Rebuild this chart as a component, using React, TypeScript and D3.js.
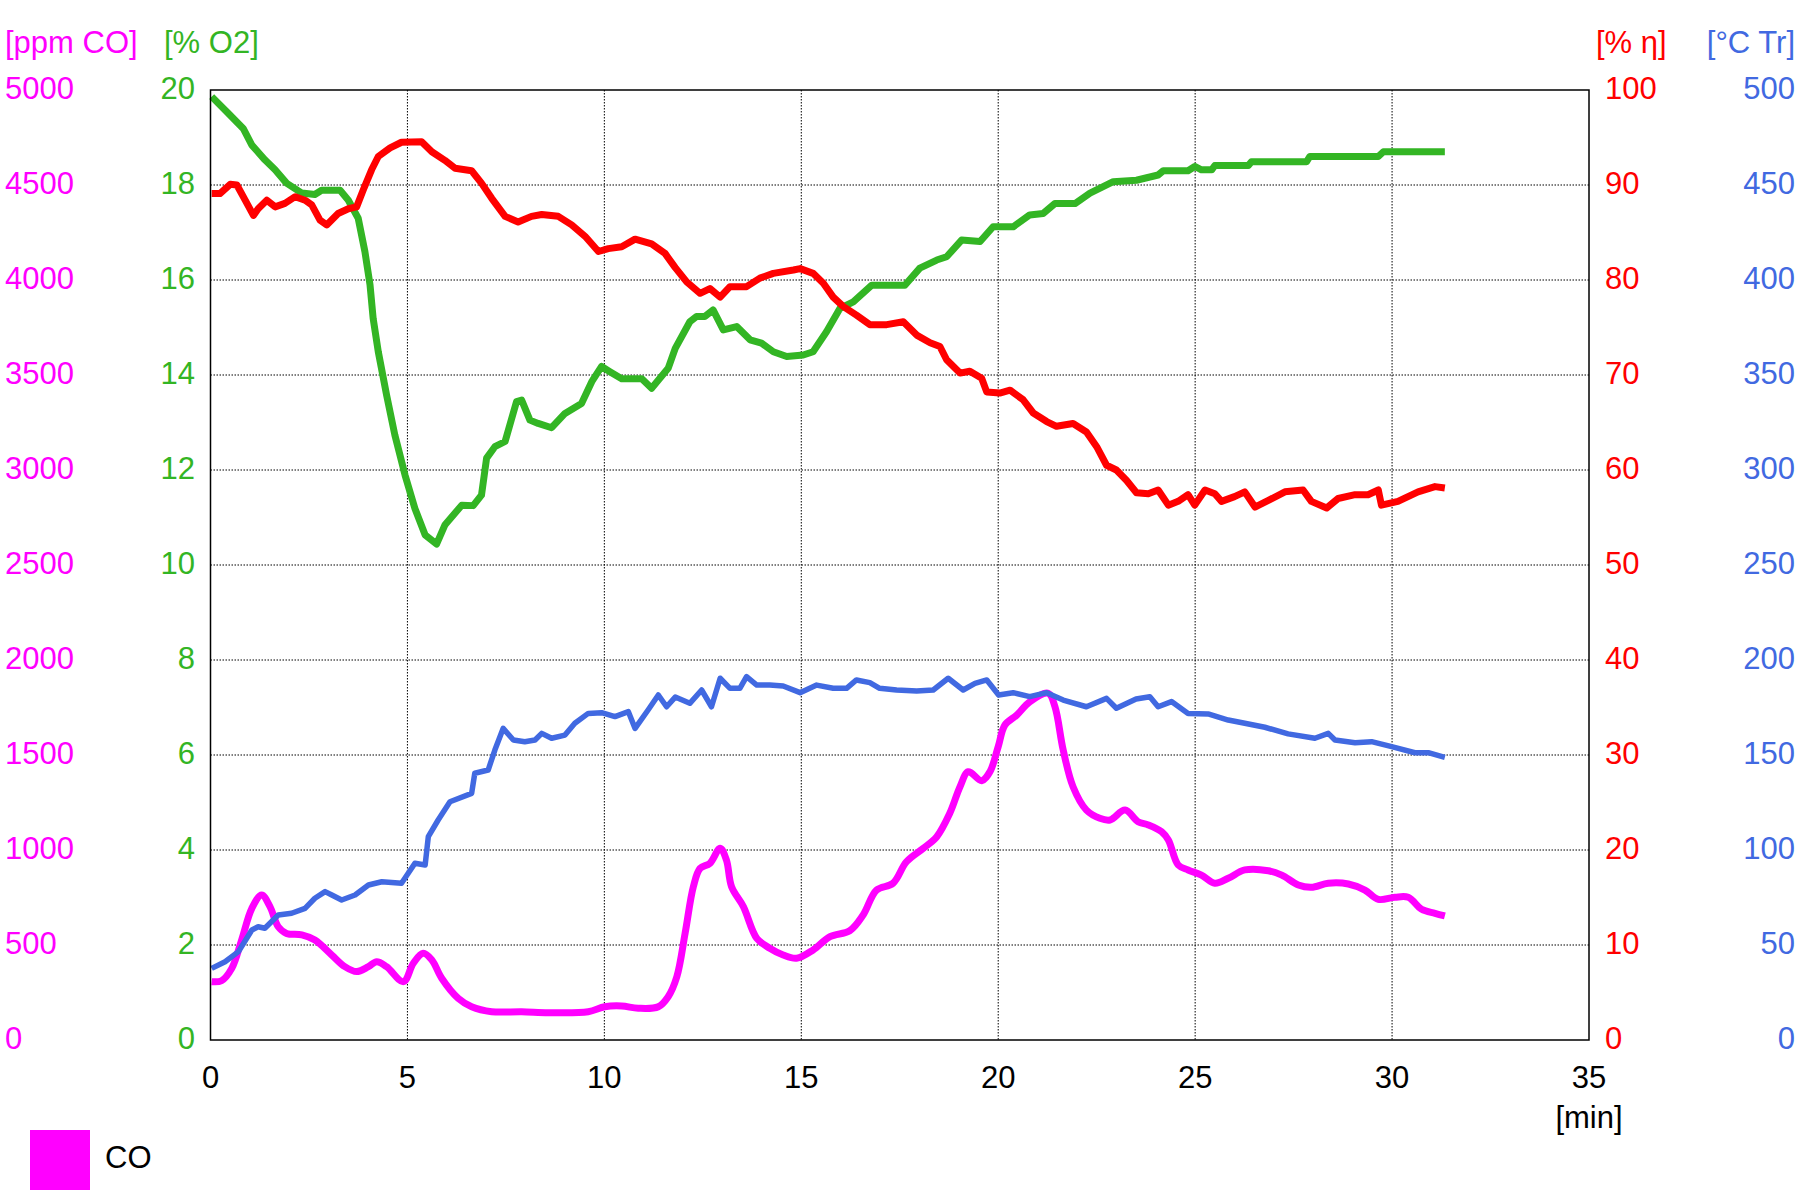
import React from "react";
import * as d3 from "d3";

// ---- data (time in min, value) ----
const timeTicks = [0, 5, 10, 15, 20, 25, 30, 35];
const coTicks = [0, 500, 1000, 1500, 2000, 2500, 3000, 3500, 4000, 4500, 5000];
const o2Ticks = [0, 2, 4, 6, 8, 10, 12, 14, 16, 18, 20];
const etaTicks = [0, 10, 20, 30, 40, 50, 60, 70, 80, 90, 100];
const tempTicks = [0, 50, 100, 150, 200, 250, 300, 350, 400, 450, 500];

const o2Series: [number, number][] = [
  [0.03, 19.86], [0.45, 19.51], [0.83, 19.19], [1.05, 18.84], [1.38, 18.53], [1.64, 18.32], [1.93, 18.04],
  [2.32, 17.83], [2.65, 17.8], [2.82, 17.89], [3.29, 17.89], [3.5, 17.68], [3.75, 17.3], [3.92, 16.6],
  [4.05, 15.9], [4.13, 15.19], [4.26, 14.49], [4.47, 13.58], [4.68, 12.74], [4.94, 11.89], [5.19, 11.19],
  [5.45, 10.63], [5.74, 10.44], [5.95, 10.84], [6.38, 11.26], [6.67, 11.25], [6.88, 11.47], [7.01, 12.25],
  [7.22, 12.49], [7.48, 12.6], [7.77, 13.44], [7.9, 13.47], [8.11, 13.05], [8.32, 12.98], [8.66, 12.89],
  [9.0, 13.19], [9.42, 13.4], [9.68, 13.86], [9.93, 14.18], [10.14, 14.07], [10.44, 13.92], [10.95, 13.92],
  [11.2, 13.72], [11.62, 14.14], [11.8, 14.56], [12.17, 15.12], [12.34, 15.23], [12.55, 15.23], [12.76, 15.37],
  [13.02, 14.95], [13.36, 15.02], [13.7, 14.74], [13.99, 14.67], [14.29, 14.49], [14.63, 14.39], [15.05, 14.42],
  [15.3, 14.49], [15.64, 14.91], [15.98, 15.4], [16.32, 15.54], [16.79, 15.89], [17.63, 15.89], [18.01, 16.25],
  [18.44, 16.42], [18.69, 16.49], [19.07, 16.84], [19.54, 16.81], [19.87, 17.12], [20.38, 17.12], [20.8, 17.37],
  [21.14, 17.4], [21.44, 17.61], [21.95, 17.61], [22.33, 17.83], [22.92, 18.07], [23.51, 18.1], [24.06, 18.21],
  [24.19, 18.3], [24.82, 18.3], [24.99, 18.39], [25.16, 18.32], [25.42, 18.32], [25.5, 18.41], [26.35, 18.41],
  [26.43, 18.49], [27.83, 18.49], [27.91, 18.6], [29.65, 18.6], [29.78, 18.7], [31.34, 18.7],
];

const etaSeries: [number, number][] = [
  [0.03, 89.1], [0.24, 89.1], [0.5, 90.07], [0.67, 90.0], [0.88, 88.4], [1.09, 86.8], [1.21, 87.5], [1.43, 88.4],
  [1.64, 87.7], [1.89, 88.07], [2.15, 88.77], [2.4, 88.4], [2.57, 87.9], [2.78, 86.3], [2.95, 85.8], [3.24, 87.0],
  [3.5, 87.5], [3.71, 87.7], [3.88, 89.5], [4.09, 91.6], [4.26, 93.0], [4.56, 93.9], [4.85, 94.5], [5.36, 94.56],
  [5.62, 93.5], [5.95, 92.6], [6.21, 91.76], [6.63, 91.5], [6.88, 90.2], [7.14, 88.6], [7.48, 86.7], [7.81, 86.1],
  [8.15, 86.7], [8.41, 86.9], [8.83, 86.7], [9.17, 85.8], [9.51, 84.6], [9.85, 83.0], [10.1, 83.3], [10.44, 83.5],
  [10.78, 84.3], [11.2, 83.8], [11.54, 82.8], [11.8, 81.3], [12.09, 79.8], [12.43, 78.6], [12.68, 79.1], [12.94, 78.2],
  [13.19, 79.3], [13.61, 79.3], [13.95, 80.2], [14.29, 80.7], [14.8, 81.05], [14.97, 81.2], [15.3, 80.7], [15.56, 79.65],
  [15.81, 78.2], [16.07, 77.2], [16.4, 76.3], [16.74, 75.3], [17.17, 75.3], [17.59, 75.6], [17.93, 74.2], [18.27, 73.4],
  [18.52, 73.0], [18.69, 71.6], [19.03, 70.2], [19.28, 70.4], [19.58, 69.65], [19.71, 68.2], [20.04, 68.1], [20.3, 68.4],
  [20.63, 67.4], [20.89, 66.0], [21.23, 65.1], [21.48, 64.6], [21.9, 64.9], [22.24, 64.0], [22.5, 62.45], [22.75, 60.5],
  [23.0, 60.0], [23.26, 58.9], [23.51, 57.6], [23.81, 57.5], [24.06, 57.9], [24.32, 56.3], [24.57, 56.7], [24.82, 57.4],
  [24.99, 56.3], [25.25, 57.9], [25.5, 57.5], [25.67, 56.7], [26.0, 57.2], [26.26, 57.7], [26.52, 56.1], [26.86, 56.8],
  [27.28, 57.7], [27.74, 57.9], [27.95, 56.7], [28.34, 56.0], [28.63, 57.0], [29.06, 57.4], [29.39, 57.4], [29.65, 57.9],
  [29.73, 56.3], [30.15, 56.7], [30.66, 57.7], [31.09, 58.25], [31.34, 58.1],
];

const tempSeries: [number, number][] = [
  [0.03, 37.7], [0.37, 41.2], [0.71, 46.5], [1.05, 57.9], [1.21, 59.6], [1.38, 58.8], [1.72, 65.8], [2.06, 66.7],
  [2.4, 69.3], [2.65, 74.6], [2.91, 78.1], [3.08, 76.3], [3.33, 73.7], [3.67, 76.3], [4.01, 81.6], [4.35, 83.3],
  [4.85, 82.5], [5.19, 93.0], [5.45, 92.1], [5.53, 107], [5.78, 115.8], [6.08, 125.4], [6.63, 129.8], [6.71, 140.4],
  [7.05, 142.1], [7.22, 152.6], [7.43, 164], [7.69, 157.9], [7.98, 157.0], [8.24, 157.9], [8.41, 161.4], [8.66, 158.8],
  [9.0, 160.5], [9.25, 166.7], [9.59, 171.9], [9.93, 172.3], [10.27, 170.2], [10.61, 172.8], [10.78, 164], [11.11, 173.7],
  [11.37, 181.6], [11.58, 175.4], [11.8, 180.5], [12.17, 177.2], [12.47, 184.2], [12.72, 175.4], [12.94, 190.4],
  [13.19, 185.1], [13.44, 185.1], [13.61, 191.2], [13.87, 186.8], [14.2, 186.8], [14.54, 186.3], [14.97, 182.8],
  [15.39, 186.8], [15.81, 185.1], [16.15, 185.1], [16.4, 189.5], [16.74, 188.1], [16.99, 185.1], [17.42, 184.2],
  [17.93, 183.7], [18.35, 184.2], [18.73, 190.4], [19.11, 184.2], [19.41, 187.7], [19.71, 189.5], [20.01, 181.6],
  [20.38, 182.8], [20.8, 180.7], [21.23, 182.8], [21.65, 178.9], [22.24, 175.4], [22.75, 179.8], [23.0, 174.6],
  [23.5, 179.5], [23.85, 180.7], [24.06, 175.4], [24.4, 178.1], [24.82, 171.9], [25.33, 171.6], [25.84, 168.4],
  [26.26, 166.7], [26.77, 164.6], [27.36, 161.1], [28.04, 158.8], [28.38, 161.4], [28.55, 157.9], [29.06, 156.5],
  [29.48, 157.0], [29.99, 154.4], [30.58, 151.2], [30.92, 151.2], [31.34, 148.8],
];

const coSeries: [number, number][] = [
  [0.03, 307], [0.28, 312], [0.54, 377], [0.79, 526], [1.05, 693], [1.3, 763], [1.51, 702], [1.72, 596], [1.93, 561],
  [2.32, 553], [2.65, 526], [3.08, 447], [3.41, 386], [3.71, 360], [4.01, 386], [4.22, 412], [4.47, 386], [4.9, 307],
  [5.15, 404], [5.4, 456], [5.62, 421], [5.87, 325], [6.29, 219], [6.63, 175], [7.14, 149], [7.9, 149], [8.58, 144],
  [9.59, 149], [10.01, 175], [10.44, 179], [10.86, 167], [11.37, 175], [11.62, 228], [11.84, 333], [12.05, 561],
  [12.26, 807], [12.43, 903], [12.68, 930], [12.94, 1009], [13.1, 947], [13.23, 807], [13.53, 702], [13.87, 535],
  [14.2, 483], [14.54, 447], [14.88, 430], [15.3, 474], [15.73, 544], [16.23, 575], [16.57, 658], [16.91, 789],
  [17.33, 825], [17.67, 938], [18.1, 1009], [18.44, 1070], [18.77, 1193], [19.03, 1333], [19.24, 1412], [19.58, 1365],
  [19.79, 1412], [20.0, 1544], [20.17, 1658], [20.47, 1710], [20.8, 1780], [21.27, 1825], [21.44, 1754], [21.65, 1526],
  [21.9, 1333], [22.24, 1210], [22.58, 1167], [22.84, 1158], [23.22, 1210], [23.55, 1149], [23.81, 1132], [24.15, 1096],
  [24.32, 1053], [24.57, 921], [24.82, 895], [25.16, 868], [25.5, 825], [25.84, 851], [26.26, 895], [26.86, 891],
  [27.2, 868], [27.62, 816], [27.95, 804], [28.38, 825], [28.89, 821], [29.31, 789], [29.65, 740], [30.07, 751],
  [30.41, 751], [30.75, 688], [31.09, 667], [31.34, 653],
];

const COLORS = { co: "#ff00ff", o2: "#33b524", eta: "#ff0000", temp: "#4169e1" };
const FONT = "'Liberation Sans', Arial, sans-serif";

export default function App() {
  const W = 1800, H = 1200;
  const left = 210.5, right = 1589, top = 90, bottom = 1040;
  const x = d3.scaleLinear().domain([0, 35]).range([left, right]);
  const yO2 = d3.scaleLinear().domain([0, 20]).range([bottom, top]);
  const yCO = d3.scaleLinear().domain([0, 5000]).range([bottom, top]);
  const yEta = d3.scaleLinear().domain([0, 100]).range([bottom, top]);
  const yT = d3.scaleLinear().domain([0, 500]).range([bottom, top]);

  const mk = (ys: d3.ScaleLinear<number, number>, curve = d3.curveLinear) =>
    d3.line<[number, number]>().x((d) => x(d[0])).y((d) => ys(d[1])).curve(curve);

  const fs = 31;
  return (
    <svg width={W} height={H} style={{ position: "absolute", left: 0, top: 0, background: "#fff" }} fontFamily={FONT}>
      <rect x={0} y={0} width={W} height={H} fill="#fff" />
      {/* grid */}
      {timeTicks.filter((t) => t > 0 && t < 35).map((t) => (
        <line key={"gx" + t} x1={x(t)} x2={x(t)} y1={top} y2={bottom} stroke="#000" strokeWidth={1} strokeDasharray="1.5 1.5" />
      ))}
      {o2Ticks.filter((t) => t > 0 && t < 20).map((t) => (
        <line key={"gy" + t} x1={left} x2={right} y1={yO2(t)} y2={yO2(t)} stroke="#000" strokeWidth={1} strokeDasharray="1.5 1.5" />
      ))}

      {/* series */}
      <path d={mk(yCO, d3.curveCatmullRom)(coSeries) || ""} fill="none" stroke={COLORS.co} strokeWidth={7} strokeLinejoin="round" strokeLinecap="butt" />
      <path d={mk(yT)(tempSeries) || ""} fill="none" stroke={COLORS.temp} strokeWidth={5.5} strokeLinejoin="round" />
      <path d={mk(yO2)(o2Series) || ""} fill="none" stroke={COLORS.o2} strokeWidth={7} strokeLinejoin="round" />
      <path d={mk(yEta)(etaSeries) || ""} fill="none" stroke={COLORS.eta} strokeWidth={7} strokeLinejoin="round" />

      {/* frame */}
      <rect x={left} y={top} width={right - left} height={bottom - top} fill="none" stroke="#000" strokeWidth={1.5} />

      {/* axis titles */}
      <text x={5} y={53} fontSize={fs} fill={COLORS.co}>[ppm CO]</text>
      <text x={164} y={53} fontSize={fs} fill={COLORS.o2}>[% O2]</text>
      <text x={1596} y={53} fontSize={fs} fill={COLORS.eta}>[% η]</text>
      <text x={1795} y={53} fontSize={fs} fill={COLORS.temp} textAnchor="end">[°C Tr]</text>

      {/* y tick labels */}
      {coTicks.map((v) => (
        <text key={"co" + v} x={5} y={yCO(v) + 8.5} fontSize={fs} fill={COLORS.co}>{v}</text>
      ))}
      {o2Ticks.map((v) => (
        <text key={"o2" + v} x={195} y={yO2(v) + 8.5} fontSize={fs} fill={COLORS.o2} textAnchor="end">{v}</text>
      ))}
      {etaTicks.map((v) => (
        <text key={"eta" + v} x={1605} y={yEta(v) + 8.5} fontSize={fs} fill={COLORS.eta}>{v}</text>
      ))}
      {tempTicks.map((v) => (
        <text key={"t" + v} x={1795} y={yT(v) + 8.5} fontSize={fs} fill={COLORS.temp} textAnchor="end">{v}</text>
      ))}

      {/* x tick labels */}
      {timeTicks.map((t) => (
        <text key={"xt" + t} x={x(t)} y={1088} fontSize={fs} fill="#000" textAnchor="middle">{t}</text>
      ))}
      <text x={x(35)} y={1128} fontSize={fs} fill="#000" textAnchor="middle">[min]</text>

      {/* legend */}
      <rect x={30} y={1130} width={60} height={60} fill={COLORS.co} />
      <text x={105} y={1168} fontSize={fs} fill="#000">CO</text>
    </svg>
  );
}
